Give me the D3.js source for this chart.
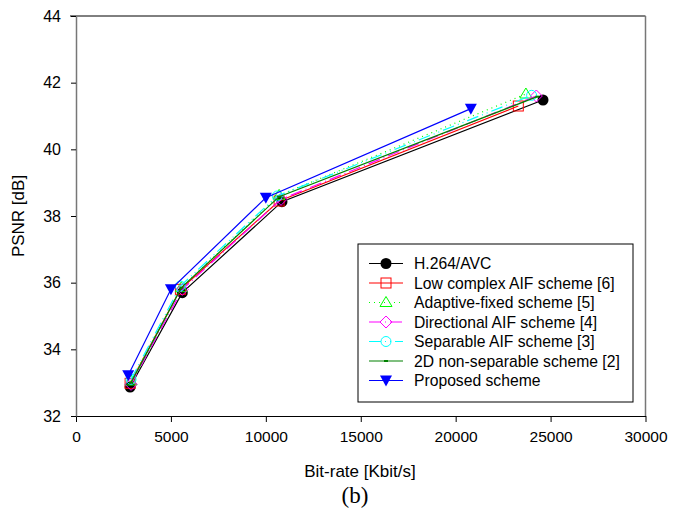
<!DOCTYPE html>
<html>
<head>
<meta charset="utf-8">
<script src="https://cdn.jsdelivr.net/npm/d3@7"></script>
<style>
  body { margin: 0; background: #fff; }
  text { font-family: "Liberation Sans", Arial, sans-serif; }
</style>
</head>
<body>
<svg id="chart"></svg>
<script>
const width = 681;
const height = 509;

// Bit-rate (Kbit/s) and PSNR (dB) for each scheme
const h264Rate = [2850, 5600, 10850, 24600];
const h264Psnr = [32.87, 35.7, 38.43, 41.48];
const lowRate = [2850, 5500, 10700, 23300];
const lowPsnr = [32.98, 35.8, 38.45, 41.3];
const adaptRate = [2900, 5550, 10700, 23700];
const adaptPsnr = [33.05, 35.85, 38.62, 41.66];
const dirRate = [2900, 5600, 10800, 24250];
const dirPsnr = [32.95, 35.8, 38.5, 41.6];
const sepRate = [2900, 5500, 10600, 24000];
const sepPsnr = [33.1, 35.9, 38.6, 41.62];
const nsRate = [2900, 5550, 10700, 24300];
const nsPsnr = [33.0, 35.85, 38.58, 41.58];
const propRate = [2750, 5000, 10000, 20800];
const propPsnr = [33.22, 35.8, 38.55, 41.22];

const xTicks = [0, 5000, 10000, 15000, 20000, 25000, 30000];
const yTicks = [32, 34, 36, 38, 40, 42, 44];

const series = [
  { name: "H.264/AVC", x: h264Rate, y: h264Psnr, color: "#000", dash: null, marker: "circle" },
  { name: "Low complex AIF scheme [6]", x: lowRate, y: lowPsnr, color: "#ff0000", dash: null, marker: "square" },
  { name: "Adaptive-fixed scheme [5]", x: adaptRate, y: adaptPsnr, color: "#00ff00", dash: "1,4", marker: "triangle" },
  { name: "Directional AIF scheme [4]", x: dirRate, y: dirPsnr, color: "#ff00ff", dash: "12,4,1,4", marker: "diamond" },
  { name: "Separable AIF scheme [3]", x: sepRate, y: sepPsnr, color: "#00ffff", dash: "12,4,1,4,1,4", marker: "ocircle" },
  { name: "2D non-separable scheme [2]", x: nsRate, y: nsPsnr, color: "#008000", dash: null, marker: "dot" },
  { name: "Proposed scheme", x: propRate, y: propPsnr, color: "#0000ff", dash: null, marker: "down" }
];

const svg = d3.select("#chart").attr("width", width).attr("height", height);

const x = d3.scaleLinear().domain([0, 30000]).range([76, 645.5]);
const y = d3.scaleLinear().domain([32, 44]).range([416, 16]);

// frame
svg.append("line").attr("x1", 70).attr("x2", 645.5).attr("y1", 16).attr("y2", 16).attr("stroke", "#000");
svg.append("line").attr("x1", 645.5).attr("x2", 645.5).attr("y1", 16).attr("y2", 416).attr("stroke", "#777").attr("stroke-width", 1.5);

const xAxis = svg.append("g")
  .attr("transform", "translate(0,416)")
  .call(d3.axisBottom(x).tickValues(xTicks).tickFormat(d3.format("d")).tickSize(6).tickSizeOuter(0));
xAxis.select(".domain").attr("stroke", "#000");
xAxis.selectAll("text").attr("font-size", 15.5).attr("y", 15).attr("dy", "0.71em").attr("fill", "#000");

const yAxis = svg.append("g")
  .attr("transform", "translate(76,0)")
  .call(d3.axisLeft(y).tickValues(yTicks).tickSize(5).tickSizeOuter(0));
yAxis.select(".domain").attr("stroke", "#777").attr("stroke-width", 1.5);
yAxis.selectAll("text").attr("font-size", 16).attr("x", -15).attr("fill", "#000");

// labels
svg.append("text").attr("x", 360).attr("y", 477).attr("text-anchor", "middle")
  .attr("font-size", 17).text("Bit-rate [Kbit/s]");
svg.append("text").attr("transform", "translate(24,216) rotate(-90)").attr("text-anchor", "middle")
  .attr("font-size", 17).text("PSNR [dB]");
svg.append("text").attr("x", 355).attr("y", 503).attr("text-anchor", "middle")
  .attr("font-size", 23).style("font-family", "'Liberation Serif', serif").text("(b)");

function drawMarker(g, type, color, cx, cy) {
  if (type === "circle") {
    g.append("circle").attr("cx", cx).attr("cy", cy).attr("r", 5.5).attr("fill", "#000");
  } else if (type === "square") {
    g.append("rect").attr("x", cx - 5).attr("y", cy - 5).attr("width", 10).attr("height", 10)
      .attr("fill", "none").attr("stroke", color);
  } else if (type === "triangle") {
    g.append("path").attr("d", `M${cx},${cy - 6}L${cx + 6},${cy + 4}L${cx - 6},${cy + 4}Z`)
      .attr("fill", "none").attr("stroke", color);
  } else if (type === "diamond") {
    g.append("path").attr("d", `M${cx},${cy - 6}L${cx + 6},${cy}L${cx},${cy + 6}L${cx - 6},${cy}Z`)
      .attr("fill", "none").attr("stroke", color);
  } else if (type === "ocircle") {
    g.append("circle").attr("cx", cx).attr("cy", cy).attr("r", 5)
      .attr("fill", "none").attr("stroke", color);
  } else if (type === "dot") {
    g.append("rect").attr("x", cx - 2).attr("y", cy - 1).attr("width", 4).attr("height", 2).attr("fill", color);
  } else if (type === "down") {
    g.append("path").attr("d", `M${cx - 6},${cy - 5}L${cx + 6},${cy - 5}L${cx},${cy + 6}Z`).attr("fill", color);
  }
}

const line = d3.line().x(d => x(d[0])).y(d => y(d[1]));

series.forEach(s => {
  const pts = s.x.map((v, i) => [v, s.y[i]]);
  const g = svg.append("g");
  g.append("path").attr("d", line(pts)).attr("fill", "none")
    .attr("stroke", s.color).attr("stroke-width", 1.2)
    .attr("stroke-dasharray", s.dash);
  pts.forEach(p => drawMarker(g, s.marker, s.color, x(p[0]), y(p[1])));
});

// legend
const legend = svg.append("g");
legend.append("rect").attr("x", 358).attr("y", 244).attr("width", 275).attr("height", 158)
  .attr("fill", "#fff").attr("stroke", "#000");
series.forEach((s, i) => {
  const ly = 263.5 + i * 19.5;
  legend.append("line").attr("x1", 369).attr("x2", 403).attr("y1", ly).attr("y2", ly)
    .attr("stroke", s.color).attr("stroke-width", 1.2).attr("stroke-dasharray", s.dash);
  drawMarker(legend, s.marker, s.color, 386, ly);
  legend.append("text").attr("x", 414).attr("y", ly + 5.5).attr("font-size", 15.7).text(s.name);
});
</script>
</body>
</html>
